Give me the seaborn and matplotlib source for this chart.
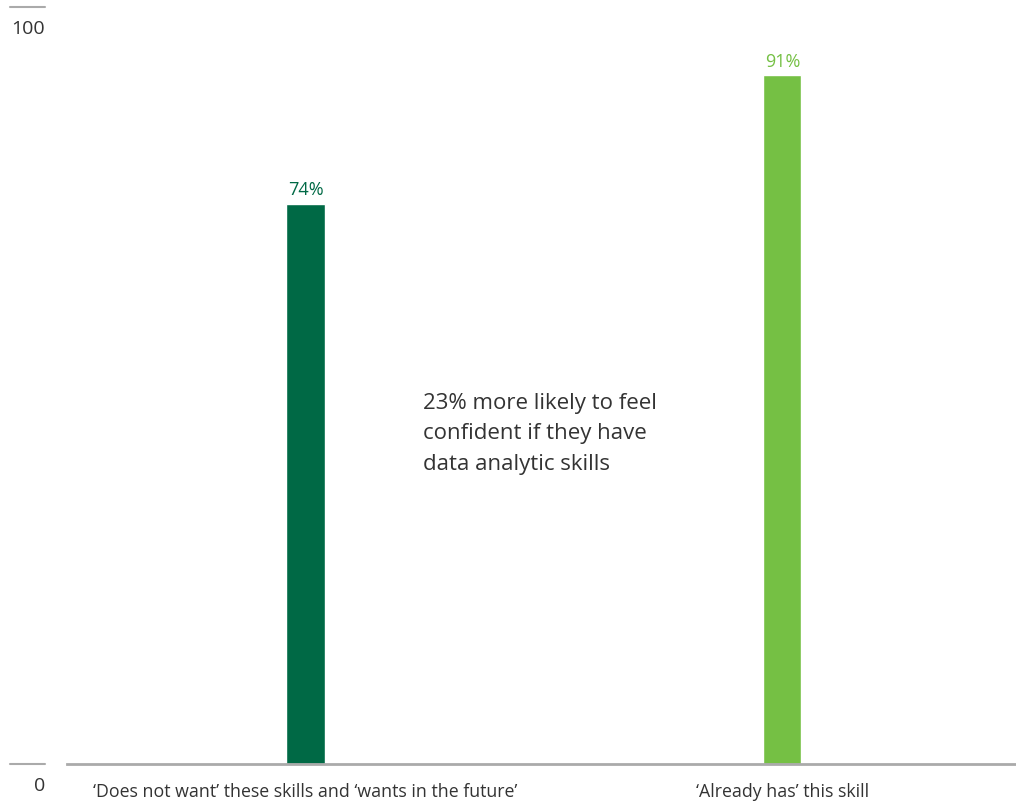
import matplotlib
matplotlib.use('Agg')
import matplotlib.pyplot as plt
import matplotlib.transforms as mtransforms
import seaborn as sns

categories = ["\u2018Does not want\u2019 these skills and \u2018wants in the future\u2019",
              "\u2018Already has\u2019 this skill"]
values = [74, 91]
value_labels = ["74%", "91%"]
colors = ["#006945", "#75C044"]
y_ticks = [0, 100]
note = "23% more likely to feel\nconfident if they have\ndata analytic skills"

sns.set_style("white")
plt.rcParams['font.family'] = ['Open Sans', 'DejaVu Sans']

fig = plt.figure(figsize=(10.16, 8.03), dpi=100)
ax = fig.add_axes([0.066, 0.0473, 0.934, 0.9427])

sns.barplot(x=categories, y=values, hue=categories, palette=colors,
            width=0.08, legend=False, ax=ax, saturation=1)

for cont, lab, col in zip(ax.containers, value_labels, colors):
    ax.bar_label(cont, labels=[lab], color=col, fontsize=13, padding=4)

ax.set_ylim(0, 100)
ax.set_xlim(-0.5, 1.49)
ax.set_yticks([])
ax.tick_params(axis='x', length=0, pad=13, labelsize=12.8, labelcolor='#333333')

for s in ['left', 'right', 'top']:
    ax.spines[s].set_visible(False)
ax.spines['bottom'].set_color('#aaaaaa')
ax.spines['bottom'].set_linewidth(2)

# short rules + labels for the y range
trans = mtransforms.blended_transform_factory(ax.transAxes, ax.transData)
for t in y_ticks:
    ax.plot([-0.060, -0.023], [t, t], transform=trans, color='#aaaaaa',
            lw=1.5, clip_on=False)
    ax.annotate(str(t), xy=(-0.023, t), xycoords=trans, xytext=(0, -15),
                textcoords='offset points', ha='right', va='center',
                fontsize=14, color='#333333', annotation_clip=False)

ax.text(0.375, 0.492, note, transform=ax.transAxes, fontsize=16,
        color='#333333', va='top', ha='left', linespacing=1.6)

ax.set_xlabel("")
ax.set_ylabel("")
fig.savefig("out.png", dpi=100)
